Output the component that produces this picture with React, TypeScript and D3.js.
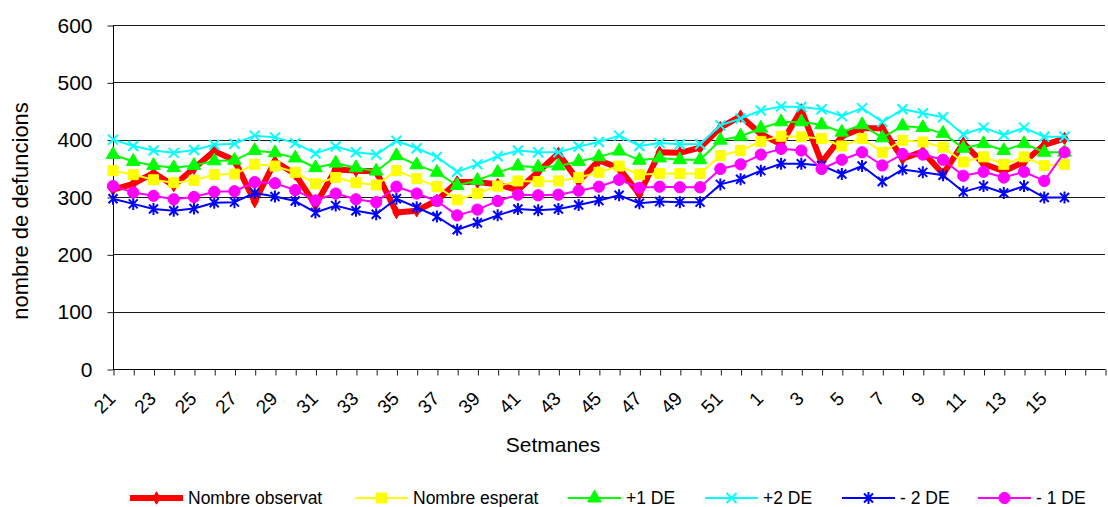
import * as d3 from 'd3'
import { useEffect, useRef } from 'react'

// setmanes: 21..52 i 1..16
const weeks = ['21', '22', '23', '24', '25', '26', '27', '28', '29', '30', '31', '32', '33', '34', '35', '36',
  '37', '38', '39', '40', '41', '42', '43', '44', '45', '46', '47', '48', '49', '50', '51', '52',
  '1', '2', '3', '4', '5', '6', '7', '8', '9', '10', '11', '12', '13', '14', '15', '16']
const observat = [313, 323, 342, 320, 350, 380, 364, 292, 362, 340, 286, 348, 346, 345, 273, 276,
  294, 326, 326, 322, 312, 344, 376, 327, 364, 350, 305, 378, 377, 386, 421, 441,
  410, 392, 452, 360, 406, 420, 420, 367, 379, 340, 394, 358, 345, 361, 391, 402]
const esperat = [346, 339, 330, 325, 329, 339, 340, 357, 354, 343, 323, 334, 325, 321, 346, 332,
  318, 295, 306, 319, 328, 327, 328, 334, 343, 354, 339, 341, 341, 341, 372, 381,
  397, 406, 405, 402, 389, 402, 378, 399, 396, 387, 361, 370, 357, 370, 355, 357]
const plus1 = [374, 362, 355, 351, 355, 363, 364, 381, 377, 368, 351, 359, 351, 345, 372, 356,
  343, 320, 329, 343, 354, 352, 354, 362, 370, 380, 364, 368, 365, 365, 399, 406,
  420, 431, 431, 426, 413, 426, 403, 424, 421, 411, 385, 393, 381, 393, 378, 378]
const plus2 = [400, 389, 381, 377, 382, 391, 393, 407, 404, 394, 376, 388, 378, 374, 398, 385,
  370, 344, 357, 371, 381, 378, 378, 388, 396, 407, 389, 394, 392, 392, 425, 437,
  451, 458, 457, 453, 441, 455, 431, 453, 446, 439, 409, 421, 408, 421, 405, 405]
const minus2 = [297, 288, 279, 276, 280, 290, 291, 307, 301, 293, 273, 285, 276, 270, 297, 282,
  266, 243, 255, 268, 279, 277, 279, 286, 294, 303, 289, 292, 291, 291, 322, 331,
  346, 358, 358, 355, 340, 354, 327, 348, 343, 338, 309, 319, 307, 319, 299, 299]
const minus1 = [319, 308, 302, 296, 300, 309, 310, 326, 324, 312, 294, 306, 296, 291, 318, 306,
  293, 268, 278, 293, 304, 303, 304, 311, 318, 330, 316, 318, 317, 317, 349, 357,
  374, 384, 381, 349, 365, 378, 355, 375, 374, 365, 337, 344, 334, 344, 328, 378]
const yTicks = [0, 100, 200, 300, 400, 500, 600]

const FONT = "'Liberation Sans', Arial, sans-serif"
const width = 1108
const height = 507
const padding = { top: 25, right: 3, bottom: 138, left: 113 }

type Marker = 'diamond' | 'square' | 'triangle' | 'x' | 'star' | 'circle'
const series: { name: string, values: number[], color: string, lineWidth: number, marker: Marker, legendX: number }[] = [
  { name: 'Nombre observat', values: observat, color: '#ff0000', lineWidth: 6, marker: 'diamond', legendX: 130 },
  { name: 'Nombre esperat', values: esperat, color: '#ffff00', lineWidth: 2, marker: 'square', legendX: 355 },
  { name: '+1 DE', values: plus1, color: '#00ff00', lineWidth: 2, marker: 'triangle', legendX: 568 },
  { name: '+2 DE', values: plus2, color: '#00ffff', lineWidth: 2, marker: 'x', legendX: 705 },
  { name: '- 2 DE', values: minus2, color: '#0000ff', lineWidth: 2, marker: 'star', legendX: 842 },
  { name: '- 1 DE', values: minus1, color: '#ff00ff', lineWidth: 2, marker: 'circle', legendX: 978 },
]

const markerPath = (m: Marker) => {
  if (m === 'x') return 'M-5,-5L5,5M-5,5L5,-5'
  if (m === 'star') return 'M-4.5,-4.5L4.5,4.5M-4.5,4.5L4.5,-4.5M0,-6L0,6'
  const type = { diamond: d3.symbolDiamond, square: d3.symbolSquare, triangle: d3.symbolTriangle, circle: d3.symbolCircle }[m]
  const size = { diamond: 45, square: 100, triangle: 80, circle: 100 }[m]
  return d3.symbol().type(type).size(size)() as string
}
const isStroke = (m: Marker) => m === 'x' || m === 'star'

const App = () => {
  const ref = useRef<SVGSVGElement>(null)
  useEffect(() => {
    const svg = d3.select(ref.current)
    svg.selectAll('*').remove()
    const x0 = padding.left
    const x1 = width - padding.right
    const yBottom = height - padding.bottom
    const xScale = d3.scalePoint<number>().domain(d3.range(weeks.length + 2)).range([x0, x1])
    const yScale = d3.scaleLinear().domain([0, 600]).range([yBottom, padding.top])

    // línies de graella
    svg.append('g').selectAll('line').data(yTicks.filter(t => t > 0)).enter().append('line')
      .attr('x1', x0).attr('x2', x1)
      .attr('y1', d => Math.round(yScale(d)) + 0.5).attr('y2', d => Math.round(yScale(d)) + 0.5)
      .attr('stroke', '#1a1a1a').attr('stroke-width', 1)

    // eix y
    const yAxis = d3.axisLeft(yScale).tickValues(yTicks).tickSize(6).tickPadding(15)
    const gy = svg.append('g').attr('transform', `translate(${x0 + 0.5},0.5)`).call(yAxis)
    gy.select('.domain').remove()
    gy.selectAll('line').attr('stroke', '#1a1a1a')
    gy.selectAll('text').attr('font-size', 21).attr('font-family', FONT).attr('fill', '#000')
    svg.append('line').attr('x1', x0 + 0.5).attr('x2', x0 + 0.5).attr('y1', padding.top).attr('y2', yBottom + 1)
      .attr('stroke', '#000')

    // eix x
    const xAxis = d3.axisBottom(xScale).tickSize(6).tickFormat(() => '')
    const gx = svg.append('g').attr('transform', `translate(0.5,${Math.round(yBottom) + 0.5})`).call(xAxis)
    gx.select('.domain').attr('stroke', '#000').attr('d', `M${x0 - 0.5},0H${x1}`)
    gx.selectAll('line').attr('stroke', '#1a1a1a')
    svg.append('g').selectAll('text').data(weeks.map((w, i) => ({ w, i })).filter(d => d.i % 2 === 0)).enter()
      .append('text')
      .attr('transform', d => `translate(${(xScale(d.i) as number) - 1},${yBottom + 26}) rotate(-45)`)
      .attr('text-anchor', 'end').attr('dy', '0.35em')
      .attr('font-size', 19).attr('font-family', FONT)
      .text(d => d.w)

    // títols
    svg.append('text').attr('x', 553).attr('y', 452).attr('text-anchor', 'middle')
      .attr('font-size', 21).attr('font-family', FONT).text('Setmanes')
    svg.append('text').attr('transform', 'translate(28,211) rotate(-90)').attr('text-anchor', 'middle')
      .attr('font-size', 22).attr('font-family', FONT).text('nombre de defuncions')

    // sèries
    series.forEach(s => {
      const line = d3.line<number>().x((d, i) => xScale(i) as number).y(d => yScale(d))
      const g = svg.append('g')
      g.append('path').attr('d', line(s.values)).attr('fill', 'none')
        .attr('stroke', s.color).attr('stroke-width', s.lineWidth).attr('stroke-linejoin', 'round')
      g.selectAll('.m').data(s.values).enter().append('path')
        .attr('transform', (d, i) => `translate(${xScale(i)},${yScale(d)})`)
        .attr('d', markerPath(s.marker))
        .attr('fill', isStroke(s.marker) ? 'none' : s.color)
        .attr('stroke', s.color).attr('stroke-width', isStroke(s.marker) ? 2 : 1)
    })

    // llegenda
    const ly = 498
    series.forEach(s => {
      const g = svg.append('g')
      g.append('line').attr('x1', s.legendX).attr('x2', s.legendX + 53).attr('y1', ly).attr('y2', ly)
        .attr('stroke', s.color).attr('stroke-width', s.lineWidth)
      g.append('path').attr('transform', `translate(${s.legendX + 26.5},${ly})`).attr('d', markerPath(s.marker))
        .attr('fill', isStroke(s.marker) ? 'none' : s.color)
        .attr('stroke', s.color).attr('stroke-width', isStroke(s.marker) ? 2 : 1)
      g.append('text').attr('x', s.legendX + 58).attr('y', ly + 6)
        .attr('font-size', 17.5).attr('font-family', FONT).text(s.name)
    })
  }, [])
  return (
    <svg ref={ref} width={width} height={height}
      style={{ position: 'absolute', left: 0, top: 0, background: '#fff' }} />
  )
}
export default App
